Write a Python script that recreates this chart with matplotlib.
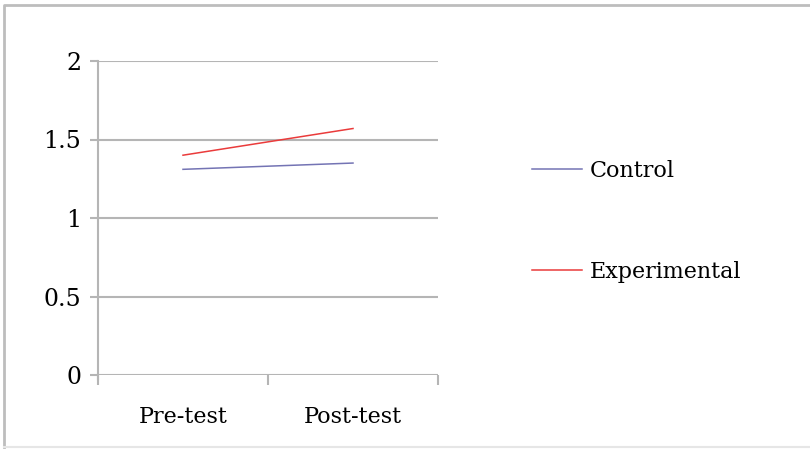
import matplotlib.pyplot as plt
from matplotlib.lines import Line2D

# data
categories = ["Pre-test", "Post-test"]
control = [1.31, 1.35]
experimental = [1.40, 1.57]
y_ticks = [0, 0.5, 1, 1.5, 2]
y_labels = ["0", "0.5", "1", "1.5", "2"]

plt.rcParams['font.family'] = ['DejaVu Serif']
grid_color = "#b5b5b5"

fig = plt.figure(figsize=(8.1, 4.49), dpi=100)
ax = fig.add_axes([98 / 810, 74 / 449, 340 / 810, 314 / 449])

x = list(range(len(categories)))
ax.plot(x, control, color="#7474b4", lw=1.1, label="Control")
ax.plot(x, experimental, color="#ea3b3b", lw=1.1, label="Experimental")

ax.set_xlim(-0.5, len(categories) - 0.5)
ax.set_ylim(0, 2)
ax.set_yticks(y_ticks)
ax.set_yticklabels(y_labels, fontsize=17)
ax.set_xticks(x)
ax.set_xticklabels(categories, fontsize=16)
ax.tick_params(axis="x", length=0, pad=22)
ax.tick_params(axis="y", length=6, width=1.5, color=grid_color, pad=6)

# category boundary ticks on the x axis
ax.set_xticks([-0.5, 0.5, 1.5], minor=True)
ax.tick_params(axis="x", which="minor", length=7, width=1.5, color=grid_color)

ax.yaxis.grid(True, color=grid_color, lw=1.5)
ax.set_axisbelow(True)
for s in ["top", "right", "bottom"]:
    ax.spines[s].set_visible(False)
ax.spines["left"].set_color(grid_color)
ax.spines["left"].set_linewidth(1.5)
ax.spines["left"].set_bounds(-0.025, 2)

ax.legend(loc="upper left", bbox_to_anchor=(512 / 810, 1 - 140 / 449),
          bbox_transform=fig.transFigure, frameon=False, fontsize=16,
          handlelength=2.25, handletextpad=0.35, labelspacing=3.55)

# outer frame: darker top and left, faint bottom, right edge off the picture
fig.lines.append(Line2D([4 / 810, 4 / 810, 1], [2 / 449, 1 - 5 / 449, 1 - 5 / 449],
                        transform=fig.transFigure, color="#bdbdbd", lw=2))
fig.lines.append(Line2D([4 / 810, 1], [2 / 449, 2 / 449],
                        transform=fig.transFigure, color="#e6e6e6", lw=1.5))

fig.savefig("out.png", dpi=100)
